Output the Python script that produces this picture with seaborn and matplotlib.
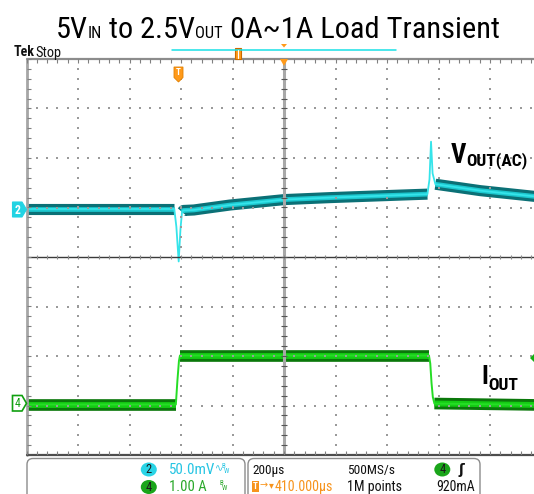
import numpy as np
import pandas as pd
import matplotlib
matplotlib.use("Agg")
import matplotlib.pyplot as plt
from matplotlib import font_manager as fm
from matplotlib.patches import Polygon, FancyBboxPatch, Ellipse, Rectangle
import seaborn as sns

# scope settings
time_per_div_us = 200
trig_to_center_us = 410
ch2_mv_per_div = 50
ch4_a_per_div = 1.0
ch2_pos_div = 0.97
ch4_pos_div = -2.95

# CH2: output voltage (AC coupled), time from trigger in us, mV
v_time_us = [-590, -16, -8, 1, 8, 14, 19, 60, 200, 412, 590, 804, 967, 975, 981, 987, 998, 1173, 1410]
v_mv = [0, 0, -18, -53, -20, -3, -1.5, -1, 4, 9.5, 11.5, 13.5, 15, 30, 68, 36, 25, 18.5, 12]
v_part = ["flat", "flat", "dip", "dip", "dip", "ramp", "ramp", "ramp", "ramp", "ramp", "ramp",
          "ramp", "ramp", "spike", "spike", "spike", "decay", "decay", "decay"]

# CH4: load current, A
i_time_us = [-590, -10, -4, 2, 6, 973, 978, 983, 988, 994, 1410]
i_amp = [-0.03, -0.03, 0.45, 0.85, 0.96, 0.96, 0.8, 0.4, 0.12, -0.01, -0.04]
i_part = ["low", "low", "rise", "rise", "high", "high", "fall", "fall", "fall", "low2", "low2"]


def available(name):
    try:
        fm.findfont(fm.FontProperties(family=name), fallback_to_default=False)
        return True
    except ValueError:
        return False


narrow = next((f for f in ["Liberation Sans Narrow", "Roboto Condensed", "Open Sans Condensed",
                           "DejaVu Sans Condensed"] if available(f)), "Liberation Sans")

sns.set_style("white")
plt.rcParams["font.family"] = [narrow, "DejaVu Sans"]

W, H = 534, 494
fig = plt.figure(figsize=(W / 100, H / 100), dpi=100)
rect = [26.5 / W, 39 / H, 515 / W, 396 / H]

ax_v = fig.add_axes(rect)
ax_i = fig.add_axes(rect)
ax_g = fig.add_axes(rect)
ax_o = fig.add_axes([0, 0, 1, 1])

xlim = (trig_to_center_us - 5 * time_per_div_us, trig_to_center_us + 5 * time_per_div_us)

# --- voltage trace (persistence band + bright centre line)
vdf = pd.DataFrame({"t": v_time_us, "mv": v_mv, "part": v_part})
for p in ("flat", "ramp", "decay"):
    d = vdf[vdf.part == p]
    sns.lineplot(data=d, x="t", y="mv", ax=ax_v, color="#0b7076", lw=8.0,
                 solid_capstyle="butt", estimator=None, sort=False)
    sns.lineplot(data=d, x="t", y="mv", ax=ax_v, color="#1cc8cf", lw=3.4,
                 solid_capstyle="butt", estimator=None, sort=False)
sns.lineplot(data=vdf, x="t", y="mv", ax=ax_v, color="#35e4ea", lw=1.3,
             estimator=None, sort=False)
ax_v.set_xlim(*xlim)
ax_v.set_ylim((-4 - ch2_pos_div) * ch2_mv_per_div, (4 - ch2_pos_div) * ch2_mv_per_div)

# --- current trace
idf = pd.DataFrame({"t": i_time_us, "a": i_amp, "part": i_part})
for p in ("low", "high", "low2"):
    d = idf[idf.part == p]
    sns.lineplot(data=d, x="t", y="a", ax=ax_i, color="#0a780a", lw=8.4,
                 solid_capstyle="butt", estimator=None, sort=False)
    sns.lineplot(data=d, x="t", y="a", ax=ax_i, color="#14cc14", lw=4.2,
                 solid_capstyle="butt", estimator=None, sort=False)
sns.lineplot(data=idf, x="t", y="a", ax=ax_i, color="#25dd25", lw=1.4,
             estimator=None, sort=False)
ax_i.set_xlim(*xlim)
ax_i.set_ylim((-4 - ch4_pos_div) * ch4_a_per_div, (4 - ch4_pos_div) * ch4_a_per_div)

for a in (ax_v, ax_i):
    a.set_axis_off()

# --- graticule (in divisions)
ax_g.set_xlim(-5, 5)
ax_g.set_ylim(-4, 4)
ax_g.set_axis_off()
xs_sub = np.arange(-5, 5.001, 0.2)
ys_sub = np.arange(-4, 4.001, 0.2)
dx, dy = [], []
for i in range(-4, 5):
    if i == 0:
        continue
    for y in ys_sub[1:-1]:
        dx.append(i); dy.append(y)
for j in range(-3, 4):
    if j == 0:
        continue
    for x in xs_sub[1:-1]:
        dx.append(x); dy.append(j)
ax_g.scatter(dx, dy, s=1.0, marker="s", color="#9a9a9a", linewidths=0)
ax_g.axhline(0, color="#3a3a3a", lw=1.0)
ax_g.axvline(0, color="#a8a8a8", lw=2.2)
ax_g.vlines(xs_sub, -0.05, 0.05, color="#8a8a8a", lw=0.8)
ax_g.hlines(ys_sub, -0.06, 0.06, color="#555555", lw=0.8)
ax_g.plot([-5, -5], [-4, 4], color="#a6a6a6", lw=2.0, clip_on=False)
ax_g.plot([-5, 5], [4, 4], color="#8c8c8c", lw=1.6, clip_on=False)
ax_g.plot([-5, 5], [-4, -4], color="#4d4d4d", lw=1.6, clip_on=False)
ax_g.vlines(xs_sub, 3.92, 4, color="#808080", lw=0.8)
ax_g.vlines(xs_sub, -4, -3.92, color="#808080", lw=0.8)
ax_g.hlines(ys_sub, -5, -4.92, color="#808080", lw=0.8)

# --- overlay in pixel coordinates
ax_o.set_xlim(0, W)
ax_o.set_ylim(H, 0)
ax_o.set_axis_off()
renderer = fig.canvas.get_renderer()


def chain(x, y, parts, **kw):
    texts = []
    for s, size, off, extra in parts:
        t = ax_o.text(x, y + off, s, fontsize=size, va="baseline", ha="left", **kw, **extra)
        x += t.get_window_extent(renderer).width
        texts.append(t)
    return texts, x


def fit_text(x, y, parts, width, center=False, **kw):
    # scale font sizes so that the run of texts spans the width seen on the screenshot
    texts, end = chain(x, y, parts, **kw)
    k = width / (end - x)
    for t in texts:
        t.remove()
    texts, end = chain(x, y, [(s, size * k, off, e) for s, size, off, e in parts], **kw)
    if center:
        for t in texts:
            t.set_x(t.get_position()[0] - (end - x) / 2)
    return texts


title_parts = [("5V", 22, 0, {}), ("IN", 12, 0, {}), (" to 2.5V", 22, 0, {}),
               ("OUT", 12, 0, {}), (" 0A~1A Load Transient", 22, 0, {})]
fit_text(277.6, 37.5, title_parts, 443, center=True, color="black")

fit_text(451, 163, [("V", 23, 0, {"weight": "bold"}), ("OUT(AC)", 15, 2, {"weight": "bold"})],
         77, color="black")
fit_text(481, 384, [("I", 22, 0, {"weight": "bold"}), ("OUT", 15, 6, {"weight": "bold"})],
         37, color="black")

fit_text(13.5, 56.5, [("Tek", 11, 0, {"weight": "bold"})], 21, color="#111111")
fit_text(35.5, 56.5, [("Stop", 10, 0, {})], 26, color="#111111")

orange = "#ff9a1a"
ax_o.plot([172, 396], [50.3, 50.3], color="#19e0e6", lw=1.1)
ax_o.add_patch(Rectangle((235, 48), 6, 11, fc=orange, ec="#c86a00", lw=0.8))
ax_o.plot([238, 238], [50, 58], color="white", lw=0.8)
ax_o.add_patch(Polygon([(281, 44), (287, 44), (284, 47.5)], fc=orange, ec="none"))
ax_o.add_patch(Polygon([(280, 59), (288, 59), (284, 66)], fc=orange, ec="none"))
ax_o.add_patch(Polygon([(174, 67), (183, 67), (183, 77.5), (178.5, 82), (174, 77.5)],
                       fc=orange, ec="#e07f00", lw=0.6))
ax_o.text(178.5, 72.5, "T", fontsize=6.5, weight="bold", color="white", ha="center", va="center")

# channel position markers
ax_o.add_patch(Polygon([(12.5, 202), (22, 202), (26.5, 209.5), (22, 217), (12.5, 217)],
                       fc="#22d3e3", ec="#22d3e3", lw=0.8))
ax_o.text(17.5, 210, "2", fontsize=8.5, weight="bold", color="white", ha="center", va="center")
ax_o.add_patch(Polygon([(12.5, 395.5), (22, 395.5), (26.5, 403.3), (22, 411), (12.5, 411)],
                       fc="white", ec="#10a010", lw=1.2))
ax_o.text(17.5, 403.5, "4", fontsize=8.5, color="#10a010", ha="center", va="center")
ax_o.add_patch(Polygon([(534, 354), (530, 358), (534, 362)], fc="#10b010", ec="none"))

# readout panel
for x0, w in ((27, 218), (248, 232)):
    ax_o.add_patch(FancyBboxPatch((x0, 458.5), w, 50, boxstyle="round,pad=0,rounding_size=6",
                                  fc="white", ec="#8c8c8c", lw=1.0))
cyan_t, green_t, orange_t = "#27c5e3", "#2aa82a", "#f7941d"
ax_o.add_patch(Ellipse((148.8, 469.5), 16, 14, fc="#29d4e6", ec="none"))
ax_o.text(148.8, 469.8, "2", fontsize=9, color="#1a1a1a", ha="center", va="center")
ax_o.add_patch(Ellipse((148.8, 487), 16, 14, fc="#1aa51a", ec="none"))
ax_o.text(148.8, 487.3, "4", fontsize=9, color="#1a1a1a", ha="center", va="center")
fit_text(168.6, 473.5, [("50.0mV", 10, 0, {})], 46, color=cyan_t)
ax_o.text(214.5, 471, "∿", fontsize=7, color=cyan_t, va="baseline", family="DejaVu Sans")
ax_o.text(221.5, 467.5, "B", fontsize=5, color=cyan_t, va="baseline")
ax_o.text(224, 473, "W", fontsize=5, color=cyan_t, va="baseline")
fit_text(168.6, 490.5, [("1.00 A", 10, 0, {})], 37, color=green_t)
ax_o.text(219.5, 484.5, "B", fontsize=5, color=green_t, va="baseline")
ax_o.text(222, 490, "W", fontsize=5, color=green_t, va="baseline")

fit_text(252.7, 473.5, [("200µs", 10, 0, {})], 32, color="#111111")
fit_text(346.7, 473.5, [("500MS/s", 10, 0, {})], 48, color="#111111")
ax_o.add_patch(Ellipse((442.3, 469.5), 16, 14, fc="#1aa51a", ec="none"))
ax_o.text(442.3, 469.8, "4", fontsize=9, color="#1a1a1a", ha="center", va="center")
ax_o.text(458.5, 474, "ʃ", fontsize=10, weight="bold", color="#111111", va="baseline",
          family="DejaVu Sans")
ax_o.add_patch(Rectangle((251.5, 481), 7.5, 10.5, fc=orange_t, ec="none"))
ax_o.text(255.2, 486.5, "T", fontsize=6.5, weight="bold", color="white", ha="center", va="center")
ax_o.text(260, 488.5, "→", fontsize=7, color=orange_t, va="baseline", family="DejaVu Sans")
ax_o.text(268.5, 488.5, "▾", fontsize=7, color=orange_t, va="baseline", family="DejaVu Sans")
fit_text(275, 490.5, [("410.000µs", 10, 0, {})], 58, color=orange_t)
fit_text(346.7, 490.5, [("1M points", 10, 0, {})], 55, color="#111111")
fit_text(436, 491, [("920mA", 10, 0, {})], 38.5, color="#111111")

fig.savefig("out.png", dpi=100, facecolor="white")
